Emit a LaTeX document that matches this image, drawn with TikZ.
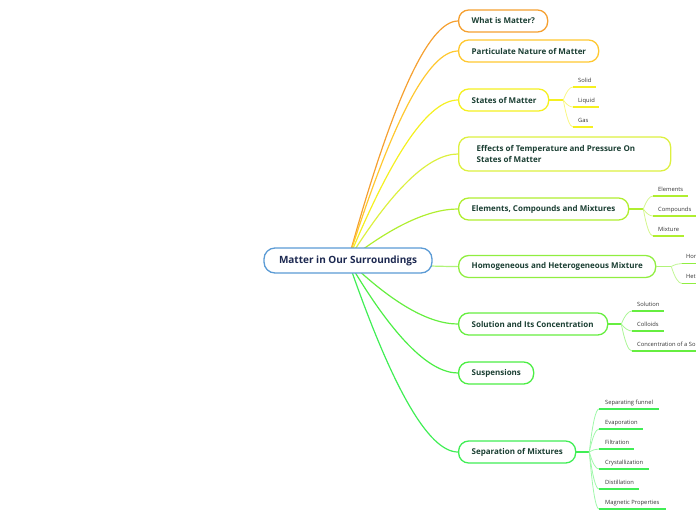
\documentclass[tikz,border=0pt]{standalone}
\usepackage{fontspec}
\setmainfont{Open Sans}
\usetikzlibrary{calc,backgrounds}
\definecolor{cA}{HTML}{F5A030}
\definecolor{cB}{HTML}{FFC830}
\definecolor{cC}{HTML}{F5F020}
\definecolor{cD}{HTML}{DDF040}
\definecolor{cE}{HTML}{B0EE30}
\definecolor{cF}{HTML}{90EE40}
\definecolor{cG}{HTML}{66EE40}
\definecolor{cH}{HTML}{4CEE44}
\definecolor{cI}{HTML}{40EE55}
\definecolor{centralborder}{HTML}{5B9BD5}
\definecolor{centraltext}{HTML}{1D2951}
\definecolor{topictext}{HTML}{1B3F33}
\definecolor{subtext}{HTML}{333333}
\newcommand\fixbox[2]{\makebox[#1pt][l]{#2}}
\newcommand\mainlink[2]{%
  \coordinate (q) at (414,0 |- #1.west);
  \draw[mainline,#2] (c.center) .. controls ($(c.center)!0.667!(q)$) and ($(#1.west)!0.667!(q)$) .. (#1.west);}
\newcommand\sublink[3]{%
  \coordinate (q) at ($(#1 |- #2)!0.5!(#2)$);
  \draw[subline,#3] (#1) .. controls ($(#1)!0.667!(q)$) and ($(#2)!0.667!(q)$) .. (#2);}
\begin{document}
\begin{tikzpicture}[x=1pt,y=-1pt,
  central/.style={draw=centralborder, fill=white, line width=1.3pt, rounded corners=11pt,
    font=\bfseries\fontsize{10}{12}\selectfont, text=centraltext, minimum width=168pt,
    minimum height=25pt, inner sep=0pt},
  topic/.style={draw, fill=white, line width=1.3pt, rounded corners=10pt,
    font=\bfseries\fontsize{8}{11}\selectfont, text=topictext, anchor=west,
    inner xsep=13pt, inner ysep=0pt, minimum height=22pt, align=left},
  sub/.style={font=\fontsize{5.8}{7}\selectfont, text=subtext, inner sep=0pt, anchor=base west},
  mainline/.style={line width=1.2pt},
  subline/.style={line width=0.8pt},
  stubline/.style={line width=1.4pt},
  uline/.style={line width=1.4pt}]
\useasboundingbox (0,0) rectangle (696,520);
\clip (0,0) rectangle (696,520);

\node[central] (c) at (348,260.5) {Matter in Our Surroundings};

\node[topic, draw=cA] (t1) at (458,21) {\fixbox{63}{What is Matter?}};
\node[topic, draw=cB] (t2) at (458,51) {\fixbox{114}{Particulate Nature of Matter}};
\node[topic, draw=cC] (t3) at (458,100) {\fixbox{64}{States of Matter}};
\node[topic, draw=cD, inner xsep=18pt, minimum height=34pt] (t4) at (458,154)
  {\fixbox{176}{Effects of Temperature and Pressure On}\\States of Matter};
\node[topic, draw=cE] (t5) at (458,209) {\fixbox{144}{Elements, Compounds and Mixtures}};
\node[topic, draw=cF] (t6) at (458,266.5) {\fixbox{171}{Homogeneous and Heterogeneous Mixture}};
\node[topic, draw=cG] (t7) at (458,324) {\fixbox{123}{Solution and Its Concentration}};
\node[topic, draw=cH] (t8) at (458,373) {\fixbox{49}{Suspensions}};
\node[topic, draw=cI] (t9) at (458,452) {\fixbox{91}{Separation of Mixtures}};

% junctions
\coordinate (j3) at ($(t3.east)+(14,0)$);
\coordinate (j5) at ($(t5.east)+(14,0)$);
\coordinate (j6) at ($(t6.east)+(15,0)$);
\coordinate (j7) at ($(t7.east)+(13,0)$);
\coordinate (j9) at ($(t9.east)+(13,0)$);

% sub-topic underline starts
\coordinate (u31) at (573,87);  \coordinate (u32) at (573,107); \coordinate (u33) at (573,127);
\coordinate (u51) at (653,196); \coordinate (u52) at (653,216); \coordinate (u53) at (653,236);
\coordinate (u61) at (682,263.5); \coordinate (u62) at (682,283.5);
\coordinate (u71) at (632,311); \coordinate (u72) at (632,331); \coordinate (u73) at (632,351);
\coordinate (u91) at (599,409); \coordinate (u92) at (599,429); \coordinate (u93) at (599,449);
\coordinate (u94) at (599,469); \coordinate (u95) at (599,489); \coordinate (u96) at (599,509);

\node[sub] (s31) at ($(u31)+(5,-5)$) {Solid};
\node[sub] (s32) at ($(u32)+(5,-5)$) {Liquid};
\node[sub] (s33) at ($(u33)+(5,-5)$) {Gas};
\node[sub] (s51) at ($(u51)+(5,-5)$) {Elements};
\node[sub] (s52) at ($(u52)+(5,-5)$) {Compounds};
\node[sub] (s53) at ($(u53)+(5,-5)$) {Mixture};
\node[sub] (s61) at ($(u61)+(4,-5)$) {Homogeneous};
\node[sub] (s62) at ($(u62)+(4,-5)$) {Heterogeneous};
\node[sub] (s71) at ($(u71)+(5,-5)$) {Solution};
\node[sub] (s72) at ($(u72)+(5,-5)$) {Colloids};
\node[sub] (s73) at ($(u73)+(5,-5)$) {Concentration of a Solution};
\node[sub] (s91) at ($(u91)+(6,-5)$) {Separating funnel};
\node[sub] (s92) at ($(u92)+(6,-5)$) {Evaporation};
\node[sub] (s93) at ($(u93)+(6,-5)$) {Filtration};
\node[sub] (s94) at ($(u94)+(6,-5)$) {Crystallization};
\node[sub] (s95) at ($(u95)+(6,-5)$) {Distillation};
\node[sub] (s96) at ($(u96)+(6,-5)$) {Magnetic Properties};

\begin{pgfonlayer}{background}
\mainlink{t1}{cA}
\mainlink{t2}{cB}
\mainlink{t3}{cC}
\mainlink{t4}{cD}
\mainlink{t5}{cE}
\mainlink{t6}{cF!70!white}
\mainlink{t7}{cG}
\mainlink{t8}{cH}
\mainlink{t9}{cI}
\end{pgfonlayer}

% stubs
\draw[stubline,cC] (t3.east) -- (j3);
\draw[stubline,cE] (t5.east) -- (j5);
\draw[stubline,cF!70!white] (t6.east) -- (j6);
\draw[stubline,cG] (t7.east) -- (j7);
\draw[stubline,cI] (t9.east) -- (j9);

% sub-branches
\sublink{j3}{u31}{cC!55!white} \sublink{j3}{u32}{cC!55!white} \sublink{j3}{u33}{cC!55!white}
\sublink{j5}{u51}{cE!55!white} \sublink{j5}{u52}{cE!55!white} \sublink{j5}{u53}{cE!55!white}
\sublink{j6}{u61}{cF!55!white} \sublink{j6}{u62}{cF!55!white}
\sublink{j7}{u71}{cG!55!white} \sublink{j7}{u72}{cG!55!white} \sublink{j7}{u73}{cG!55!white}
\sublink{j9}{u91}{cI!50!white} \sublink{j9}{u92}{cI!50!white} \sublink{j9}{u93}{cI!50!white}
\sublink{j9}{u94}{cI!50!white} \sublink{j9}{u95}{cI!50!white} \sublink{j9}{u96}{cI!50!white}

% underlines
\draw[uline,cC] (u31) -- ++(23,0);
\draw[uline,cC] (u32) -- ++(26,0);
\draw[uline,cC] (u33) -- ++(20,0);
\draw[uline,cE] (u51) -- ++(35,0);
\draw[uline,cE] (u52) -- ++(45,0);
\draw[uline,cE] (u53) -- ++(31,0);
\draw[uline,cF] (u61) -- ++(30,0);
\draw[uline,cF] (u62) -- ++(30,0);
\draw[uline,cG] (u71) -- ++(32,0);
\draw[uline,cG] (u72) -- ++(32,0);
\draw[uline,cG] (u73) -- ++(80,0);
\draw[uline,cI] (u91) -- ++(60,0);
\draw[uline,cI] (u92) -- ++(44,0);
\draw[uline,cI] (u93) -- ++(35,0);
\draw[uline,cI] (u94) -- ++(50,0);
\draw[uline,cI] (u95) -- ++(40,0);
\draw[uline,cI] (u96) -- ++(67,0);
\end{tikzpicture}
\end{document}
